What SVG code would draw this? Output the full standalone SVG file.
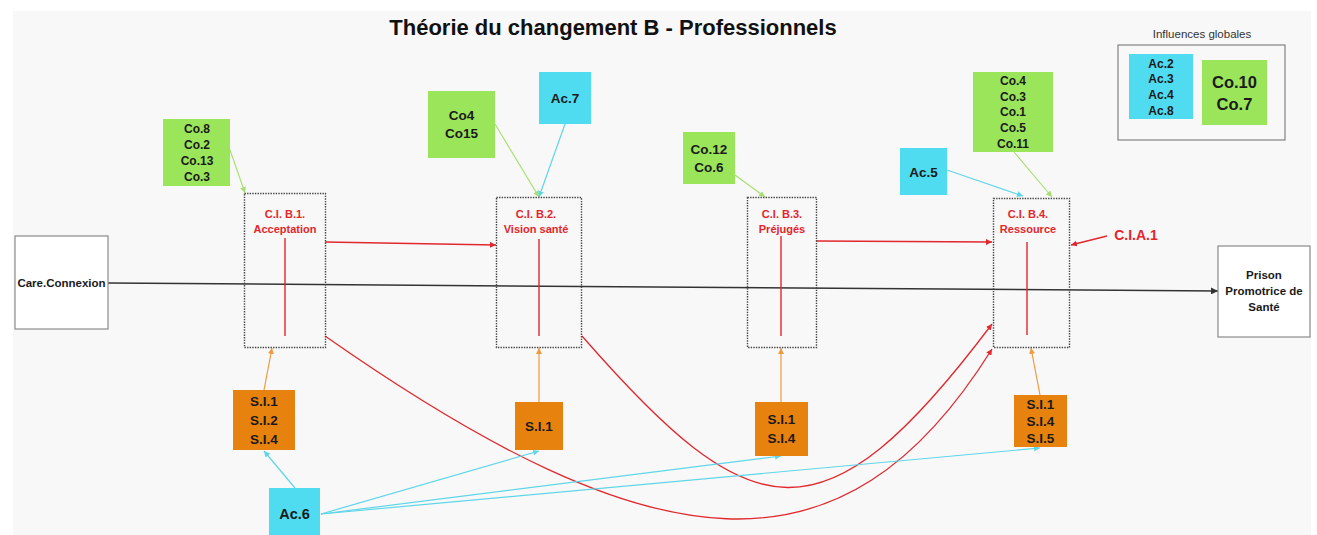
<svg xmlns="http://www.w3.org/2000/svg" width="1317" height="535" viewBox="0 0 1317 535">
  <style>
    text { font-family: "Liberation Sans", Arial, sans-serif; font-weight: bold; text-anchor: middle; }
    .title { font-size: 22px; fill: #111; }
    .lbl { font-size: 11.5px; fill: #1a1a1a; }
    .co { font-size: 12px; fill: #1a1a1a; }
    .co13 { font-size: 13.5px; fill: #1a1a1a; }
    .si { font-size: 13.5px; fill: #1a1a1a; }
    .ci { font-size: 11px; fill: #e4262c; }
    .green { fill: #9be55a; }
    .cyan { fill: #4fdcf0; }
    .orange { fill: #e8820f; }
    .term { fill: #ffffff; stroke: #8a8a8a; stroke-width: 1.2; }
    .dotted { fill: none; stroke: #444; stroke-width: 1.4; stroke-dasharray: 1.4 1.2; }
    .mid { stroke: #e4262c; stroke-width: 1.4; }
    .c-red { fill: none; stroke: #e0282e; stroke-width: 1.3; marker-end: url(#ah-red); }
    .c-green { fill: none; stroke: #a8de6e; stroke-width: 1.1; marker-end: url(#ah-green); }
    .c-cyan { fill: none; stroke: #5fd6e8; stroke-width: 1.2; marker-end: url(#ah-cyan); }
    .c-orange { fill: none; stroke: #ee9a3e; stroke-width: 1.2; marker-end: url(#ah-orange); }
    .c-main { fill: none; stroke: #333; stroke-width: 1.5; marker-end: url(#ah-black); }
  </style>
  <defs>
    <marker id="ah-red" viewBox="0 0 10 10" refX="10" refY="5" markerWidth="6" markerHeight="6" markerUnits="userSpaceOnUse" orient="auto"><path d="M0,0 L10,5 L0,10 z" fill="#e0282e"/></marker>
    <marker id="ah-green" viewBox="0 0 10 10" refX="10" refY="5" markerWidth="6" markerHeight="6" markerUnits="userSpaceOnUse" orient="auto"><path d="M0,0 L10,5 L0,10 z" fill="#a8de6e"/></marker>
    <marker id="ah-cyan" viewBox="0 0 10 10" refX="10" refY="5" markerWidth="6" markerHeight="6" markerUnits="userSpaceOnUse" orient="auto"><path d="M0,0 L10,5 L0,10 z" fill="#5fd6e8"/></marker>
    <marker id="ah-orange" viewBox="0 0 10 10" refX="10" refY="5" markerWidth="6" markerHeight="6" markerUnits="userSpaceOnUse" orient="auto"><path d="M0,0 L10,5 L0,10 z" fill="#ee9a3e"/></marker>
    <marker id="ah-black" viewBox="0 0 10 10" refX="10" refY="5" markerWidth="7" markerHeight="7" markerUnits="userSpaceOnUse" orient="auto"><path d="M0,0 L10,5 L0,10 z" fill="#333"/></marker>
  </defs>

  <!-- canvas -->
  <rect x="0" y="0" width="1317" height="535" fill="#ffffff"/>
  <rect x="13" y="11" width="1298" height="524" fill="#f8f8f8"/>

  <text class="title" x="613" y="35">Théorie du changement B - Professionnels</text>

  <!-- connectors -->
  <g id="connectors">
    <!-- main flow -->
    <path class="c-main" d="M108,283 L1218,291"/>
    <!-- change intermediates -->
    <path class="c-red" d="M325,242 L496,245"/>
    <path class="c-red" d="M816,241 L992,242"/>
    <path class="c-red" d="M325,336 C655,567 843,588 992,349"/>
    <path class="c-red" d="M582,336 C752,531 823,549 992,324"/>
    <path class="c-red" d="M1107,236 L1071,245"/>
    <!-- contexts -->
    <path class="c-green" d="M230,150 L245,193"/>
    <path class="c-green" d="M495,124 L539,197"/>
    <path class="c-green" d="M735,175 L765,197"/>
    <path class="c-green" d="M1014,152 L1052,197"/>
    <!-- actors -->
    <path class="c-cyan" d="M565,124 L539,197"/>
    <path class="c-cyan" d="M947,170 L1023,196"/>
    <path class="c-cyan" d="M295,488 L264,451"/>
    <path class="c-cyan" d="M321,514 L539,451"/>
    <path class="c-cyan" d="M321,514 L781,456"/>
    <path class="c-cyan" d="M321,514 L1040,448"/>
    <!-- strategic interventions -->
    <path class="c-orange" d="M264,390 L272,348"/>
    <path class="c-orange" d="M539,402 L539,348"/>
    <path class="c-orange" d="M781,402 L781,348"/>
    <path class="c-orange" d="M1040,395 L1031,348"/>
  </g>

  <!-- terminal nodes -->
  <g id="care-connexion">
    <rect class="term" x="15" y="236" width="93" height="93"/>
    <text class="lbl" x="61.5" y="287">Care.Connexion</text>
  </g>
  <g id="prison">
    <rect class="term" x="1218" y="246" width="92" height="91"/>
    <text class="lbl" font-size="12" x="1264" y="279">Prison</text>
    <text class="lbl" font-size="12" x="1264" y="295">Promotrice de</text>
    <text class="lbl" font-size="12" x="1264" y="311">Santé</text>
  </g>

  <!-- global influences -->
  <g id="influences">
    <text x="1202" y="38" style="font-weight:normal;font-size:11.5px;fill:#333">Influences globales</text>
    <rect x="1118" y="45" width="167" height="95" fill="none" stroke="#777" stroke-width="1.1"/>
    <rect class="cyan" x="1129" y="54" width="64" height="65"/>
    <text class="co" x="1161" y="67.5">Ac.2</text>
    <text class="co" x="1161" y="83">Ac.3</text>
    <text class="co" x="1161" y="99">Ac.4</text>
    <text class="co" x="1161" y="115">Ac.8</text>
    <rect class="green" x="1202" y="60" width="65" height="65"/>
    <text x="1234.5" y="88" style="font-size:16.5px;fill:#1a1a1a">Co.10</text>
    <text x="1234.5" y="110" style="font-size:16.5px;fill:#1a1a1a">Co.7</text>
  </g>

  <!-- C.I. B.1 -->
  <g id="ci-b1">
    <rect class="dotted" x="244.5" y="193.5" width="81" height="154"/>
    <text class="ci" x="285" y="218">C.I. B.1.</text>
    <text class="ci" x="285" y="232.5">Acceptation</text>
    <line class="mid" x1="285" y1="238" x2="285" y2="336"/>
  </g>
  <g id="ctx-b1">
    <rect class="green" x="163" y="119" width="67" height="67"/>
    <text class="co" x="197" y="133">Co.8</text>
    <text class="co" x="197" y="149">Co.2</text>
    <text class="co" x="197" y="165">Co.13</text>
    <text class="co" x="197" y="181">Co.3</text>
  </g>

  <!-- C.I. B.2 -->
  <g id="ci-b2">
    <rect class="dotted" x="496.5" y="197.5" width="85" height="150"/>
    <text class="ci" x="536" y="218">C.I. B.2.</text>
    <text class="ci" x="536" y="232.5">Vision santé</text>
    <line class="mid" x1="539" y1="239" x2="539" y2="336"/>
  </g>
  <g id="ctx-b2">
    <rect class="green" x="428" y="91" width="67" height="67"/>
    <text class="co13" x="461.5" y="120">Co4</text>
    <text class="co13" x="461.5" y="138">Co15</text>
  </g>
  <g id="ac7">
    <rect class="cyan" x="539" y="72" width="52" height="52"/>
    <text class="co13" x="565" y="103">Ac.7</text>
  </g>

  <!-- C.I. B.3 -->
  <g id="ci-b3">
    <rect class="dotted" x="747.5" y="197.5" width="69" height="150"/>
    <text class="ci" x="782" y="218">C.I. B.3.</text>
    <text class="ci" x="782" y="232.5">Préjugés</text>
    <line class="mid" x1="781" y1="236" x2="781" y2="336"/>
  </g>
  <g id="ctx-b3">
    <rect class="green" x="683" y="132" width="52" height="52"/>
    <text class="co13" x="709" y="154">Co.12</text>
    <text class="co13" x="709" y="172">Co.6</text>
  </g>

  <!-- C.I. B.4 -->
  <g id="ci-b4">
    <rect class="dotted" x="993.5" y="198.5" width="76" height="149"/>
    <text class="ci" x="1028" y="218">C.I. B.4.</text>
    <text class="ci" x="1028" y="232.5">Ressource</text>
    <line class="mid" x1="1027" y1="242" x2="1027" y2="335"/>
  </g>
  <g id="ctx-b4">
    <rect class="green" x="973" y="72" width="80" height="80"/>
    <text class="co" x="1013" y="85">Co.4</text>
    <text class="co" x="1013" y="100.5">Co.3</text>
    <text class="co" x="1013" y="116">Co.1</text>
    <text class="co" x="1013" y="132">Co.5</text>
    <text class="co" x="1013" y="148">Co.11</text>
  </g>
  <g id="ac5">
    <rect class="cyan" x="900" y="148" width="47" height="47"/>
    <text class="co13" x="923.5" y="176.5">Ac.5</text>
  </g>
  <g id="cia1">
    <text x="1136" y="240" style="font-size:14px;fill:#e4262c">C.I.A.1</text>
  </g>

  <!-- strategic interventions -->
  <g id="si-b1">
    <rect class="orange" x="233" y="390" width="62" height="60"/>
    <text class="si" x="264" y="406">S.I.1</text>
    <text class="si" x="264" y="425">S.I.2</text>
    <text class="si" x="264" y="444">S.I.4</text>
  </g>
  <g id="si-b2">
    <rect class="orange" x="515" y="402" width="48" height="48"/>
    <text class="si" x="539" y="431">S.I.1</text>
  </g>
  <g id="si-b3">
    <rect class="orange" x="755" y="402" width="53" height="54"/>
    <text class="si" x="781.5" y="424">S.I.1</text>
    <text class="si" x="781.5" y="443">S.I.4</text>
  </g>
  <g id="si-b4">
    <rect class="orange" x="1014" y="395" width="53" height="52"/>
    <text class="si" x="1040.5" y="409">S.I.1</text>
    <text class="si" x="1040.5" y="426">S.I.4</text>
    <text class="si" x="1040.5" y="443">S.I.5</text>
  </g>

  <g id="ac6">
    <rect class="cyan" x="269" y="488" width="51" height="50"/>
    <text x="294.5" y="519" style="font-size:14.5px;fill:#1a1a1a">Ac.6</text>
  </g>
</svg>
